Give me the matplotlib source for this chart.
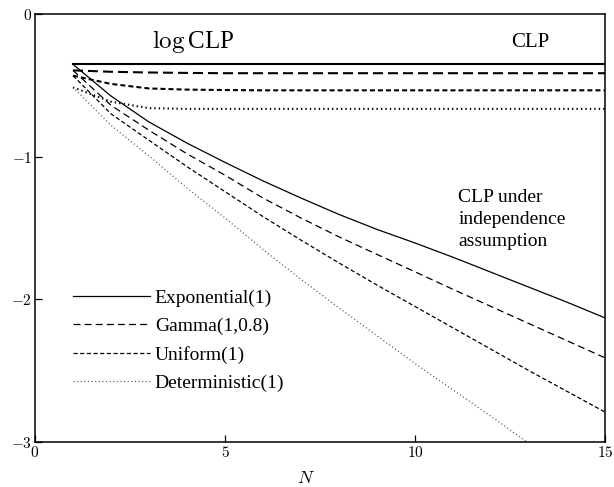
import numpy as np
import matplotlib.pyplot as plt

plt.rcParams['font.family'] = 'Liberation Serif'
plt.rcParams['mathtext.fontset'] = 'cm'
plt.rcParams['lines.scale_dashes'] = False

# number of links N
N = np.arange(1, 16)

# log CLP (joint)
clp_exp = [-0.353] * 15
clp_gamma = [-0.395, -0.405, -0.41, -0.413, -0.415, -0.415, -0.415, -0.415,
             -0.415, -0.415, -0.415, -0.415, -0.415, -0.415, -0.415]
clp_unif = [-0.432, -0.49, -0.522, -0.53, -0.533, -0.535, -0.535, -0.535,
            -0.535, -0.535, -0.535, -0.535, -0.535, -0.535, -0.535]
clp_det = [-0.514, -0.615, -0.66, -0.665, -0.665, -0.665, -0.665, -0.665,
           -0.665, -0.665, -0.665, -0.665, -0.665, -0.665, -0.665]

# log CLP if the links were independent
ind_exp = [-0.353, -0.575, -0.757, -0.905, -1.04, -1.17, -1.29, -1.405,
           -1.51, -1.605, -1.705, -1.81, -1.915, -2.02, -2.13]
ind_gamma = [-0.395, -0.64, -0.815, -0.98, -1.13, -1.29, -1.43, -1.562,
             -1.685, -1.807, -1.93, -2.05, -2.17, -2.29, -2.41]
ind_unif = [-0.432, -0.70, -0.885, -1.07, -1.245, -1.42, -1.585, -1.745,
            -1.90, -2.05, -2.20, -2.35, -2.50, -2.645, -2.79]
ind_det = [-0.514, -0.78, -0.995, -1.22, -1.43, -1.65, -1.86, -2.06,
           -2.255, -2.45, -2.635, -2.82, -3.01, -3.2, -3.385]

labels = ['Exponential(1)', 'Gamma(1,0.8)', 'Uniform(1)', 'Deterministic(1)']

fig = plt.figure(figsize=(6.14, 4.87), dpi=100)
ax = fig.add_axes([35/614, 45/487, 570/614, 428/487])

lw_clp = 1.5
lw_ind = 0.9

# CLP curves (thick)
ax.plot(N, clp_exp, color='k', lw=lw_clp)
ax.plot(N, clp_gamma, color='k', lw=lw_clp, dashes=(7.2, 3.6))
ax.plot(N, clp_unif, color='k', lw=lw_clp, dashes=(3.6, 2.2))
ax.plot(N, clp_det, color='k', lw=lw_clp, dashes=(1.0, 2.2))

# independence curves (thin), these carry the legend
ax.plot(N, ind_exp, color='k', lw=lw_ind, label=labels[0])
ax.plot(N, ind_gamma, color='k', lw=lw_ind, dashes=(5.0, 3.0), label=labels[1])
ax.plot(N, ind_unif, color='k', lw=lw_ind, dashes=(3.0, 1.8), label=labels[2])
ax.plot(N, ind_det, color='0.35', lw=lw_ind, dashes=(0.8, 1.8), label=labels[3])

ax.set_xlim(0, 15)
ax.set_ylim(-3, 0)
ax.set_xticks([0, 5, 10, 15])
ax.set_yticks([-3, -2, -1, 0])
ax.set_xticklabels([f'${v}$' for v in [0, 5, 10, 15]])
ax.set_yticklabels([f'${v}$' for v in [-3, -2, -1, 0]])
ax.tick_params(direction='in', length=5, width=0.9, labelsize=11,
               top=False, right=False, pad=2)
for s in ax.spines.values():
    s.set_linewidth(1.1)

ax.set_xlabel('$N$', fontsize=13)
ax.xaxis.set_label_coords(0.475, -0.065)

ax.text(4.17, -0.19, r'$\log$CLP', fontsize=18, ha='center', va='center')
ax.text(13.03, -0.20, 'CLP', fontsize=15, ha='center', va='center')
ax.text(11.14, -1.225, 'CLP under\nindependence\nassumption', fontsize=14,
        ha='left', va='top', linespacing=1.38)

ax.legend(loc='center left', bbox_to_anchor=(0.067, 0.237), frameon=False,
          fontsize=14, handlelength=3.95, handletextpad=0.25,
          labelspacing=0.54, borderpad=0, borderaxespad=0)

fig.savefig('out.png', dpi=100)
